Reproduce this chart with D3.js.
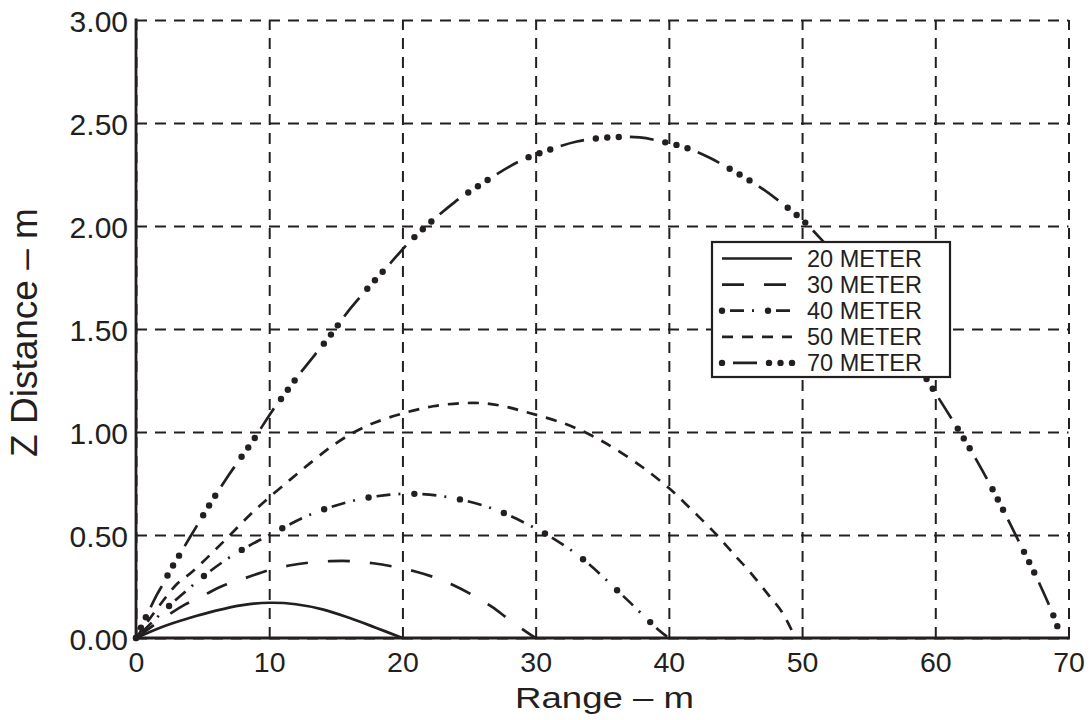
<!DOCTYPE html>
<html>
<head>
<meta charset="utf-8">
<script src="https://cdn.jsdelivr.net/npm/d3@7"></script>
<style>
  html, body { margin: 0; padding: 0; background: #fff; }
  svg { display: block; }
</style>
</head>
<body>
<svg id="chart" width="1091" height="720"></svg>
<script>
// Axis ticks
const rangeTicks = [0, 10, 20, 30, 40, 50, 60, 70];
const zTicks = [0, 0.5, 1.0, 1.5, 2.0, 2.5, 3.0];

// Series names (legend order)
const seriesLabels = ["20 METER", "30 METER", "40 METER", "50 METER", "70 METER"];

// 20 m trajectory: range (m) and Z distance (m)
const range20 = [0, 2, 4, 6, 8, 10, 12, 14, 16, 18, 20];
const z20     = [0, 0.055, 0.097, 0.133, 0.16, 0.171, 0.164, 0.139, 0.098, 0.05, 0];

// 30 m trajectory
const range30 = [0, 2.5, 3.7, 5.1, 6.7, 8.3, 10, 11.5, 13, 14.6, 16.2, 17.8, 19.3, 20.9, 22.5, 23.8, 25.3, 26.7, 27.9, 29.3, 30];
const z30     = [0, 0.115, 0.163, 0.208, 0.258, 0.293, 0.33, 0.352, 0.366, 0.373, 0.373, 0.363, 0.347, 0.324, 0.292, 0.257, 0.207, 0.152, 0.095, 0.03, 0];

// 40 m trajectory
const range40 = [0, 3.3, 6.8, 10.4, 13.5, 16.9, 20.2, 23.6, 26.9, 29.3, 31.4, 33.6, 36.8, 39.3, 40];
const z40     = [0, 0.203, 0.382, 0.513, 0.61, 0.675, 0.70, 0.682, 0.625, 0.555, 0.48, 0.38, 0.19, 0.035, 0];

// 50 m trajectory
const range50 = [0, 3.0, 4.2, 6.4, 9.0, 11.6, 13.4, 14.9, 16.4, 17.9, 20, 22.3, 24.5, 26.4, 27.8, 29.1, 30.5, 32.2, 33.5, 34.8, 35.8, 38, 40, 40.8, 43.6, 45.1, 45.9, 47.4, 48.5, 49.5];
const z50     = [0, 0.257, 0.32, 0.457, 0.625, 0.77, 0.866, 0.94, 1.0, 1.045, 1.09, 1.125, 1.14, 1.138, 1.122, 1.10, 1.075, 1.04, 1.005, 0.962, 0.925, 0.83, 0.728, 0.68, 0.5, 0.39, 0.335, 0.215, 0.125, 0];

// 70 m trajectory
const range70 = [0, 1.57, 2.1, 2.54, 3.14, 4.06, 4.9, 5.55, 6.9, 7.6, 8.8, 10.2, 11, 12.2, 14.66, 16.1, 19.1, 20.8, 23.9, 25.6, 28.8, 30.6, 33.1, 35.5, 37.8, 39.8, 41.3, 43.1, 44.9, 46.7, 48.3, 50.1, 51.3, 52.5, 55, 57.5, 60.1, 62.5, 64, 65.2, 66.4, 67.3, 68.2, 68.8, 69.2];
const z70     = [0, 0.21, 0.27, 0.325, 0.39, 0.49, 0.58, 0.65, 0.785, 0.85, 0.96, 1.1, 1.17, 1.275, 1.475, 1.6, 1.82, 1.94, 2.115, 2.19, 2.315, 2.36, 2.41, 2.43, 2.43, 2.405, 2.38, 2.33, 2.265, 2.195, 2.12, 2.025, 1.945, 1.86, 1.67, 1.44, 1.18, 0.93, 0.758, 0.608, 0.452, 0.335, 0.21, 0.12, 0.05];

// Line patterns along the path (px): dash intervals and dot positions per period
const linePatterns = [
  null,
  { period: 42, dashes: [[0, 22]], dots: [], legendOffset: 0 },
  { period: 46, dashes: [[8, 22], [30, 32]], dots: [0], legendOffset: 0 },
  { period: 20, dashes: [[0, 11]], dots: [], legendOffset: 0 },
  { period: 70, dashes: [[34, 58]], dots: [0, 11.5, 23], legendOffset: 23 }
];

const series = [
  { label: seriesLabels[0], xs: range20, zs: z20 },
  { label: seriesLabels[1], xs: range30, zs: z30 },
  { label: seriesLabels[2], xs: range40, zs: z40 },
  { label: seriesLabels[3], xs: range50, zs: z50 },
  { label: seriesLabels[4], xs: range70, zs: z70 }
].map((s, i) => ({ ...s, pattern: linePatterns[i], points: s.xs.map((v, j) => [v, s.zs[j]]) }));

const ink = "#231f20";
const FONT = "'Liberation Sans', Arial, Helvetica, sans-serif";

const svg = d3.select("#chart").attr("font-family", FONT);

const x = d3.scaleLinear().domain([0, 70]).range([136, 1068.5]);
const y = d3.scaleLinear().domain([0, 3]).range([638, 20]);

// Dashed grid + tick labels from the axes
const gx = svg.append("g")
  .attr("transform", `translate(0,${y(0)})`)
  .call(d3.axisBottom(x)
    .tickValues(rangeTicks)
    .tickFormat(d3.format("d"))
    .tickSizeInner(-(y(0) - y(3)))
    .tickSizeOuter(0)
    .tickPadding(13.5));
gx.attr("font-family", FONT).attr("font-size", 28.5);
gx.select(".domain").remove();
gx.selectAll(".tick line").attr("stroke", ink).attr("stroke-width", 2).attr("stroke-dasharray", "11,8");
gx.selectAll(".tick text").attr("fill", ink);

const gy = svg.append("g")
  .attr("transform", `translate(${x(0)},0)`)
  .call(d3.axisLeft(y)
    .tickValues(zTicks)
    .tickFormat(d3.format(".2f"))
    .tickSizeInner(-(x(70) - x(0)))
    .tickSizeOuter(0)
    .tickPadding(8));
gy.attr("font-family", FONT).attr("font-size", 30);
gy.select(".domain").remove();
gy.selectAll(".tick line").attr("stroke", ink).attr("stroke-width", 2).attr("stroke-dasharray", "11,8");
gy.selectAll(".tick text").attr("fill", ink).attr("dy", "0.38em");

// Solid left and bottom axis lines
svg.append("line")
  .attr("x1", x(0)).attr("x2", x(70)).attr("y1", y(0)).attr("y2", y(0))
  .attr("stroke", ink).attr("stroke-width", 2.8).attr("stroke-linecap", "square");
svg.append("line")
  .attr("x1", x(0)).attr("x2", x(0)).attr("y1", y(0)).attr("y2", y(3))
  .attr("stroke", ink).attr("stroke-width", 2.8).attr("stroke-linecap", "square");

// Turn a pattern into a stroke-dasharray (dots are added as circles)
function dashArray(p) {
  const arr = [0];
  let cursor = 0;
  p.dashes.forEach(([s, e]) => {
    arr.push(s - cursor, e - s);
    cursor = e;
  });
  arr.push(p.period - cursor);
  return arr.join(",");
}

function strokePatterned(g, d, pattern, offset) {
  const path = g.append("path")
    .attr("d", d)
    .attr("fill", "none")
    .attr("stroke", ink)
    .attr("stroke-width", 2.7);
  if (!pattern) return path;
  path.attr("stroke-dasharray", dashArray(pattern)).attr("stroke-dashoffset", offset);
  const node = path.node();
  const len = node.getTotalLength();
  for (let k = 0; k * pattern.period - offset <= len + 1; k++) {
    pattern.dots.forEach(p => {
      const at = k * pattern.period + p - offset;
      if (at < -0.5 || at > len + 1) return;
      const pt = node.getPointAtLength(Math.max(0, Math.min(len, at)));
      g.append("circle").attr("cx", pt.x).attr("cy", pt.y).attr("r", 3.2).attr("fill", ink);
    });
  }
  return path;
}

// Curves
const line = d3.line()
  .x(d => x(d[0]))
  .y(d => y(d[1]))
  .curve(d3.curveCatmullRom.alpha(0.5));

const gc = svg.append("g");
series.forEach(s => {
  strokePatterned(gc.append("g"), line(s.points), s.pattern, 0);
});

// Legend
const legend = svg.append("g");
const lgLeft = 712, lgTop = 242, lgW = 238, lgH = 135;
legend.append("rect")
  .attr("x", lgLeft).attr("y", lgTop).attr("width", lgW).attr("height", lgH)
  .attr("fill", "#fff").attr("stroke", ink).attr("stroke-width", 2.2);
series.forEach((s, i) => {
  const cy = lgTop + 16.5 + i * 26.1;
  const row = legend.append("g");
  strokePatterned(row, `M${lgLeft + 10},${cy}H${lgLeft + 80}`, s.pattern, s.pattern ? s.pattern.legendOffset : 0);
  row.append("text")
    .attr("x", lgLeft + 95).attr("y", cy + 8.4)
    .attr("font-size", 23.5).attr("fill", ink)
    .text(s.label);
});

// Axis titles
svg.append("text")
  .attr("x", 604.5).attr("y", 707.7)
  .attr("text-anchor", "middle")
  .attr("font-size", 30)
  .attr("textLength", 179).attr("lengthAdjust", "spacingAndGlyphs")
  .attr("fill", ink)
  .text("Range – m");

svg.append("text")
  .attr("transform", "translate(36.7,332.5) rotate(-90)")
  .attr("text-anchor", "middle")
  .attr("font-size", 37)
  .attr("fill", ink)
  .text("Z Distance – m");
</script>
</body>
</html>
